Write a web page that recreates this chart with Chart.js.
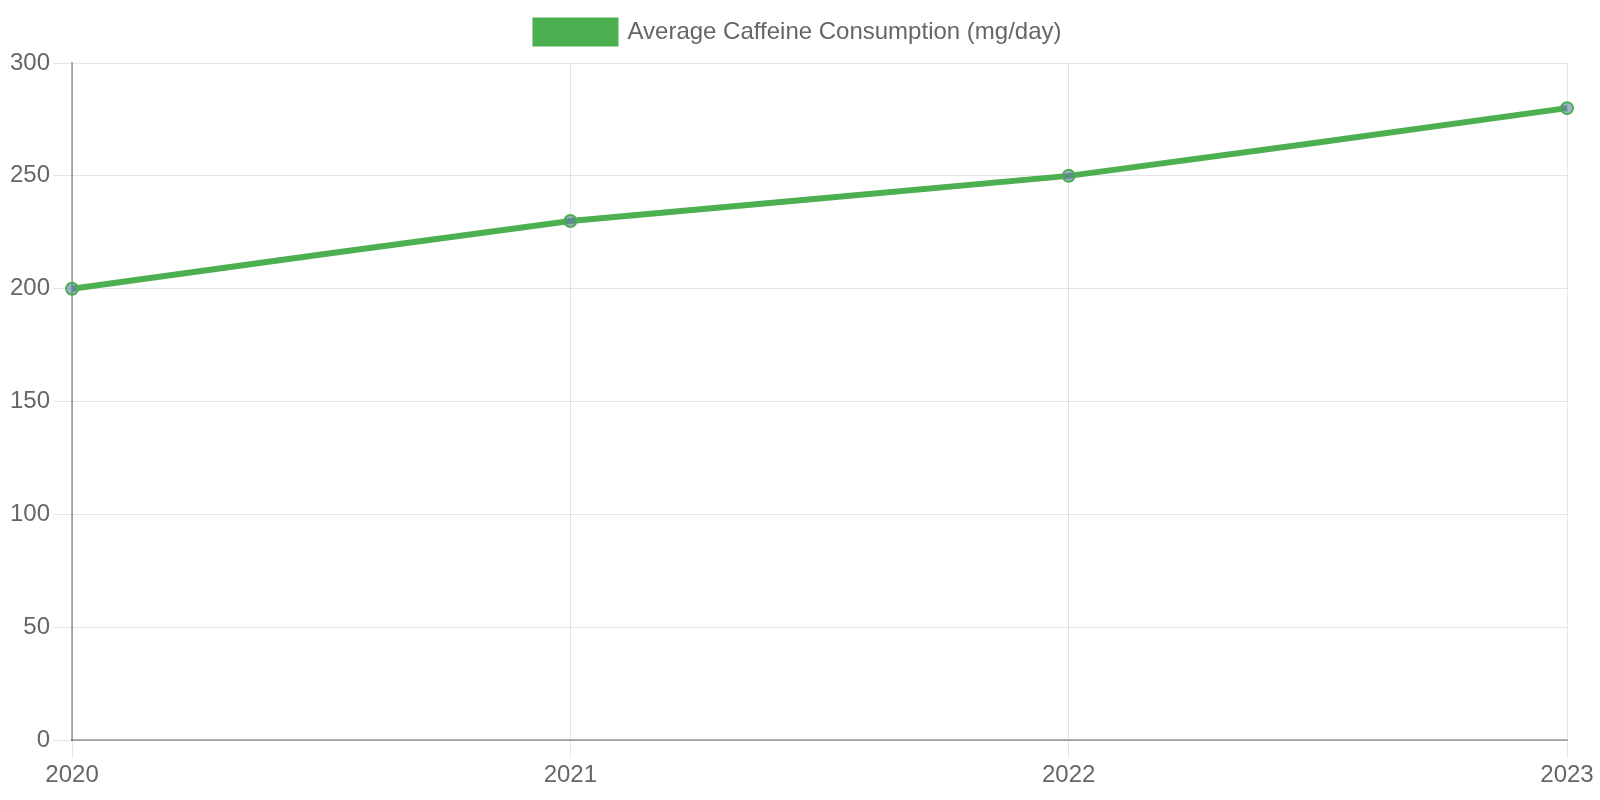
<!DOCTYPE html>
<html>
<head>
<meta charset="utf-8">
<script src="https://cdn.jsdelivr.net/npm/chart.js@4"></script>
<style>
  html, body { margin: 0; padding: 0; background: #fff; }
  #wrap { width: 1600px; height: 800px; }
</style>
</head>
<body>
<div id="wrap"><canvas id="out"></canvas></div>
<script>
// years and average caffeine intake
const years = ["2020", "2021", "2022", "2023"];
const caffeine = [200, 230, 250, 280];

const green = "rgb(76, 175, 80)";

const ctx = document.getElementById("out").getContext("2d");
Chart.defaults.font.family = "'Liberation Sans', Arial, sans-serif";
Chart.defaults.color = "#666";

// a little more room under the legend
const legendGap = {
  id: "legendGap",
  beforeInit(chart) {
    const fit = chart.legend.fit;
    chart.legend.fit = function() {
      fit.bind(chart.legend)();
      this.height += 9;
    };
  }
};

new Chart(ctx, {
  type: "line",
  data: {
    labels: years,
    datasets: [
      {
        label: "Average Caffeine Consumption (mg/day)",
        data: caffeine,
        borderColor: green,
        backgroundColor: green,
        borderWidth: 6,
        tension: 0.1,
        pointRadius: 6,
        pointBorderWidth: 2,
        pointBackgroundColor: "rgba(95, 125, 170, 0.6)",
        pointBorderColor: green
      }
    ]
  },
  options: {
    responsive: true,
    maintainAspectRatio: false,
    animation: false,
    layout: { padding: { top: 0, left: 7, right: 10, bottom: 7 } },
    plugins: {
      legend: {
        labels: {
          font: { size: 24 },
          boxWidth: 80,
          boxHeight: 23,
          padding: 20
        }
      }
    },
    scales: {
      x: {
        grid: { color: "rgba(0,0,0,0.1)", tickLength: 18 },
        border: { color: "rgba(0,0,0,0.3)", width: 2 },
        ticks: { font: { size: 24 } },
        afterFit(scale) {
          scale.paddingRight = 33;
        }
      },
      y: {
        min: 0,
        max: 300,
        ticks: { stepSize: 50, font: { size: 24 } },
        grid: { color: "rgba(0,0,0,0.1)", tickLength: 19 },
        border: { color: "rgba(0,0,0,0.3)", width: 2 }
      }
    }
  },
  plugins: [legendGap]
});
</script>
</body>
</html>
